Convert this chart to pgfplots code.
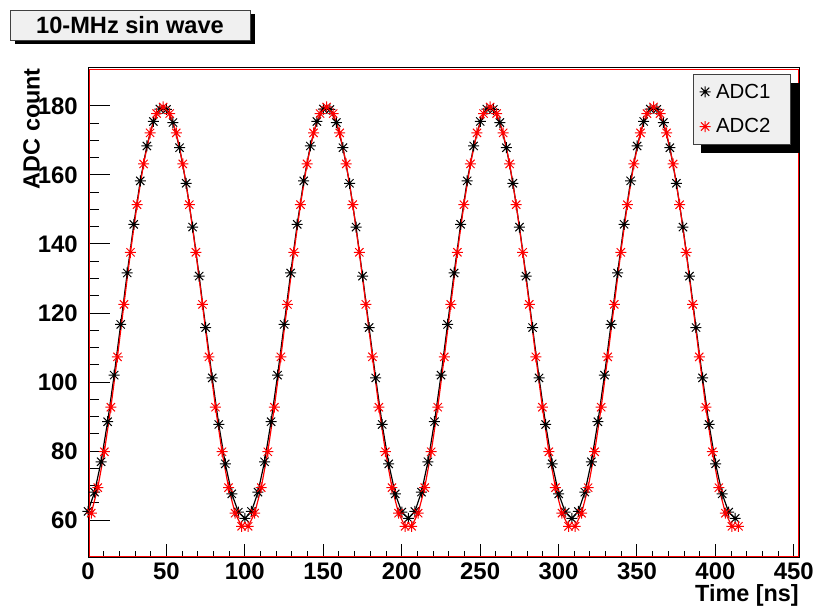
\documentclass[border=0pt]{standalone}
\usepackage{pgfplots}
\pgfplotsset{compat=1.18}
\usepackage{pgfplotstable}
\usepackage{fontspec}
\setmainfont{Liberation Sans}
\usetikzlibrary{shadows}

\definecolor{panelgray}{RGB}{240,240,240}

% eight-armed star marker
\pgfdeclareplotmark{rootstar}{%
  \pgfpathmoveto{\pgfqpoint{-\pgfplotmarksize}{0pt}}%
  \pgfpathlineto{\pgfqpoint{\pgfplotmarksize}{0pt}}%
  \pgfpathmoveto{\pgfqpoint{0pt}{-\pgfplotmarksize}}%
  \pgfpathlineto{\pgfqpoint{0pt}{\pgfplotmarksize}}%
  \pgfpathmoveto{\pgfqpoint{-0.75\pgfplotmarksize}{-0.75\pgfplotmarksize}}%
  \pgfpathlineto{\pgfqpoint{0.75\pgfplotmarksize}{0.75\pgfplotmarksize}}%
  \pgfpathmoveto{\pgfqpoint{-0.75\pgfplotmarksize}{0.75\pgfplotmarksize}}%
  \pgfpathlineto{\pgfqpoint{0.75\pgfplotmarksize}{-0.75\pgfplotmarksize}}%
  \pgfusepathqstroke}

\begin{document}

% ADC1 samples: time [ns], ADC count
\pgfplotstableread{
t y
0.00 62.5
4.17 68.1
8.34 76.9
12.50 88.5
16.67 102.0
20.84 116.7
25.01 131.6
29.18 145.7
33.34 158.3
37.51 168.4
41.68 175.5
45.85 179.1
50.02 179.0
54.18 175.2
58.35 167.9
62.52 157.6
66.69 144.9
70.86 130.7
75.02 115.8
79.19 101.2
83.36 87.7
87.53 76.3
91.70 67.6
95.86 62.3
100.03 60.5
104.20 62.5
108.37 68.1
112.54 76.9
116.70 88.5
120.87 102.0
125.04 116.7
129.21 131.6
133.38 145.7
137.54 158.3
141.71 168.4
145.88 175.5
150.05 179.1
154.22 179.0
158.38 175.2
162.55 167.9
166.72 157.6
170.89 144.9
175.06 130.7
179.22 115.8
183.39 101.2
187.56 87.7
191.73 76.3
195.90 67.6
200.06 62.3
204.23 60.5
208.40 62.5
212.57 68.1
216.74 76.9
220.90 88.5
225.07 102.0
229.24 116.7
233.41 131.6
237.58 145.7
241.74 158.3
245.91 168.4
250.08 175.5
254.25 179.1
258.42 179.0
262.58 175.2
266.75 167.9
270.92 157.6
275.09 144.9
279.26 130.7
283.42 115.8
287.59 101.2
291.76 87.7
295.93 76.3
300.10 67.6
304.26 62.3
308.43 60.5
312.60 62.5
316.77 68.1
320.94 76.9
325.10 88.5
329.27 102.0
333.44 116.7
337.61 131.6
341.78 145.7
345.94 158.3
350.11 168.4
354.28 175.5
358.45 179.1
362.62 179.0
366.78 175.2
370.95 167.9
375.12 157.6
379.29 144.9
383.46 130.7
387.62 115.8
391.79 101.2
395.96 87.7
400.13 76.3
404.30 67.6
408.46 62.3
412.63 60.5
}\adcone

% ADC2 samples: time [ns], ADC count
\pgfplotstableread{
t y
2.08 62.0
6.25 69.4
10.42 79.8
14.59 92.7
18.76 107.3
22.92 122.5
27.09 137.6
31.26 151.4
35.43 163.2
39.60 172.2
43.76 177.8
47.93 179.7
52.10 177.8
56.27 172.2
60.44 163.2
64.60 151.4
68.77 137.6
72.94 122.5
77.11 107.3
81.28 92.7
85.44 79.8
89.61 69.4
93.78 62.0
97.95 58.2
102.12 58.2
106.28 62.0
110.45 69.4
114.62 79.8
118.79 92.7
122.96 107.3
127.12 122.5
131.29 137.6
135.46 151.4
139.63 163.2
143.80 172.2
147.96 177.8
152.13 179.7
156.30 177.8
160.47 172.2
164.64 163.2
168.80 151.4
172.97 137.6
177.14 122.5
181.31 107.3
185.48 92.7
189.64 79.8
193.81 69.4
197.98 62.0
202.15 58.2
206.32 58.2
210.48 62.0
214.65 69.4
218.82 79.8
222.99 92.7
227.16 107.3
231.32 122.5
235.49 137.6
239.66 151.4
243.83 163.2
248.00 172.2
252.16 177.8
256.33 179.7
260.50 177.8
264.67 172.2
268.84 163.2
273.00 151.4
277.17 137.6
281.34 122.5
285.51 107.3
289.68 92.7
293.84 79.8
298.01 69.4
302.18 62.0
306.35 58.2
310.52 58.2
314.68 62.0
318.85 69.4
323.02 79.8
327.19 92.7
331.36 107.3
335.52 122.5
339.69 137.6
343.86 151.4
348.03 163.2
352.20 172.2
356.36 177.8
360.53 179.7
364.70 177.8
368.87 172.2
373.04 163.2
377.20 151.4
381.37 137.6
385.54 122.5
389.71 107.3
393.88 92.7
398.04 79.8
402.21 69.4
406.38 62.0
410.55 58.2
414.72 58.2
}\adctwo

\begin{tikzpicture}
\useasboundingbox (-88bp,-52bp) rectangle (730bp,557bp);
\begin{axis}[
  at={(0,0)}, anchor=south west,
  scale only axis, width=711bp, height=489bp,
  xmin=0, xmax=453.3, ymin=49.3, ymax=191,
  xtick={0,50,...,450}, ytick={60,80,...,180},
  minor x tick num=4, minor y tick num=3,
  tick pos=left, tick align=inside,
  xtick style={/pgfplots/major tick length=13bp, /pgfplots/minor tick length=6.5bp, black, line width=1bp},
  ytick style={/pgfplots/major tick length=22bp, /pgfplots/minor tick length=11bp, black, line width=1bp},
  axis line style={line width=1bp, black},
  clip=false,
  /pgf/number format/assume math mode=true,
  ticklabel style={font=\fontsize{24}{24}\selectfont\bfseries, inner sep=0pt},
  xticklabel style={anchor=base, yshift=-22.5bp},
  yticklabel style={anchor=east, xshift=-10bp},
  xlabel={Time [ns]}, ylabel={ADC count},
  every axis x label/.style={at={(rel axis cs:1,-0.0905)}, anchor=base east, inner sep=0pt, font=\fontsize{23.5}{23.5}\selectfont\bfseries},
  every axis y label/.style={at={(rel axis cs:-0.0795,1)}, anchor=east, rotate=90, inner sep=0pt, font=\fontsize{23.5}{23.5}\selectfont\bfseries},
  legend style={at={(rel axis cs:0.9887,0.9877)}, anchor=north east,
    draw=black!75, line width=0.8bp, fill=panelgray,
    font=\fontsize{20.5}{20.5}\selectfont,
    inner xsep=6.5bp, inner ysep=9.5bp, row sep=19bp,
    nodes={inner sep=0pt},
    drop shadow={shadow xshift=8bp, shadow yshift=-9bp, fill=black, opacity=1}},
  legend cell align=left,
  legend image code/.code={%
    \pgfpathmoveto{\pgfqpoint{-5.5bp}{0bp}}%
    \pgfpathlineto{\pgfqpoint{11bp}{0bp}}%
    \pgfusepath{}%
    \draw[#1] plot[only marks] coordinates {(0bp,0bp)};},
]
\addplot[black, line width=1.2bp, mark=rootstar, mark size=5.5bp, mark options={line width=1bp, solid}] table[x=t, y=y] {\adcone};
\addlegendentry{ADC1\hspace*{13.5bp}}
\addplot[red, line width=1.2bp, mark=rootstar, mark size=5.5bp, mark options={line width=1bp, solid}] table[x=t, y=y] {\adctwo};
\addlegendentry{ADC2\hspace*{13.5bp}}
\draw[red, line width=0.8bp] ([xshift=1bp,yshift=1bp]rel axis cs:0,0) rectangle ([xshift=-1bp,yshift=-1bp]rel axis cs:1,1);
\end{axis}

\node[draw=black!75, line width=0.8bp, fill=panelgray, minimum width=240bp, minimum height=30bp, inner sep=0pt,
  font=\fontsize{23.7}{23.7}\selectfont\bfseries,
  drop shadow={shadow xshift=5bp, shadow yshift=-4bp, fill=black, opacity=1}] at (42bp,532bp) {10-MHz sin wave};
\end{tikzpicture}
\end{document}
